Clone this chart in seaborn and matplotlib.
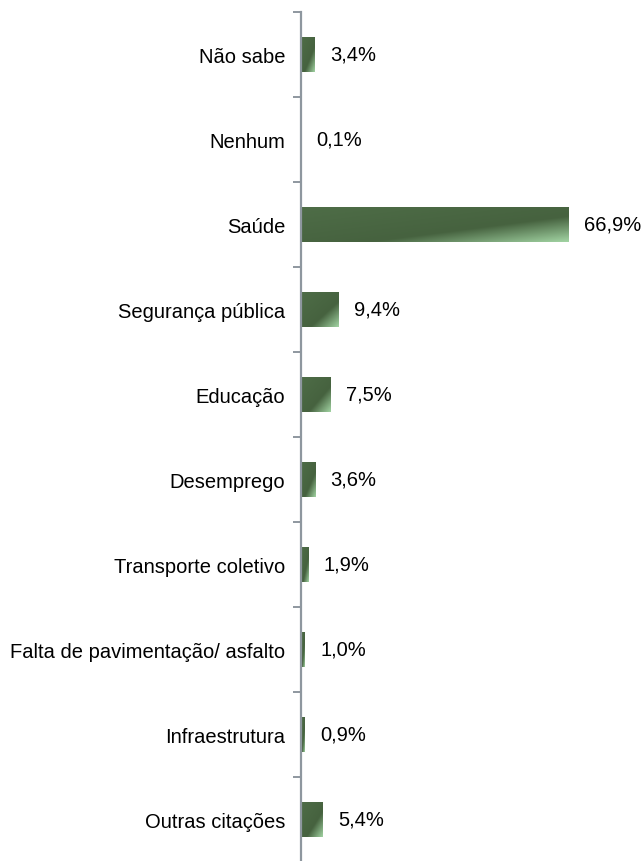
import numpy as np
import pandas as pd
import seaborn as sns
import matplotlib
matplotlib.use("Agg")
import matplotlib.pyplot as plt
from matplotlib.colors import to_rgb

categorias = ["Não sabe", "Nenhum", "Saúde", "Segurança pública", "Educação",
              "Desemprego", "Transporte coletivo", "Falta de pavimentação/ asfalto",
              "Infraestrutura", "Outras citações"]
valores = [3.4, 0.1, 66.9, 9.4, 7.5, 3.6, 1.9, 1.0, 0.9, 5.4]
rotulos = ["3,4%", "0,1%", "66,9%", "9,4%", "7,5%", "3,6%", "1,9%", "1,0%", "0,9%", "5,4%"]

df = pd.DataFrame({"cat": categorias, "val": valores})

sns.set_style("white")
plt.rcParams["font.family"] = ["Liberation Sans", "DejaVu Sans"]

W, H = 642, 862
fig = plt.figure(figsize=(W / 100, H / 100), dpi=100)
ax = fig.add_axes([301 / W, -1 / H, 320 / W, 850 / H])

escuro = "#4c6a45"
sns.barplot(data=df, x="val", y="cat", orient="h", color=escuro, width=0.41,
            saturation=1, ax=ax)
ax.set_xlim(0, 80)
ax.set_ylim(9.5, -0.5)

# gradiente diagonal (mais claro no canto inferior direito)
c_top = np.array(to_rgb("#4e6d47"))
c_mid = np.array(to_rgb("#46623f"))
c_light = np.array(to_rgb("#a2d4a3"))
for p in ax.patches:
    x0, y0 = p.get_x(), p.get_y()
    w, h = p.get_width(), p.get_height()
    if w <= 0:
        continue
    u = np.linspace(0, 1, 200)
    v = np.linspace(0, 1, 60)
    U, V = np.meshgrid(u, v)
    t = (U + V) / 2
    a = np.clip(t / 0.63, 0, 1)[..., None]
    b = np.clip((t - 0.63) / 0.37, 0, 1)[..., None]
    img = np.where(t[..., None] < 0.63,
                   c_top + (c_mid - c_top) * a,
                   c_mid + (c_light - c_mid) * b)
    im = ax.imshow(img, extent=(x0, x0 + w, y0 + h, y0), aspect="auto",
                   interpolation="bilinear", zorder=p.get_zorder() + 0.1)
    im.set_clip_path(p)

for i, (v, r) in enumerate(zip(valores, rotulos)):
    ax.annotate(r, xy=(v, i), xytext=(11, 0), textcoords="offset points",
                ha="left", va="center", fontsize=14.5, color="#000000")

ax.set_xlabel("")
ax.set_ylabel("")
ax.set_xticks([])
for s in ["top", "right", "bottom"]:
    ax.spines[s].set_visible(False)
ax.spines["left"].set_color("#8e979f")
ax.spines["left"].set_linewidth(1.6)
ax.set_yticks(np.arange(-0.5, 10, 1), minor=True)
ax.tick_params(axis="y", which="minor", left=True, length=6, width=1.4,
               color="#8e979f", direction="out")
ax.tick_params(axis="y", which="major", left=False, length=0, pad=11.5,
               labelsize=14.5, labelcolor="#000000")
ax.patch.set_alpha(0)

fig.savefig("out.png", dpi=100)
